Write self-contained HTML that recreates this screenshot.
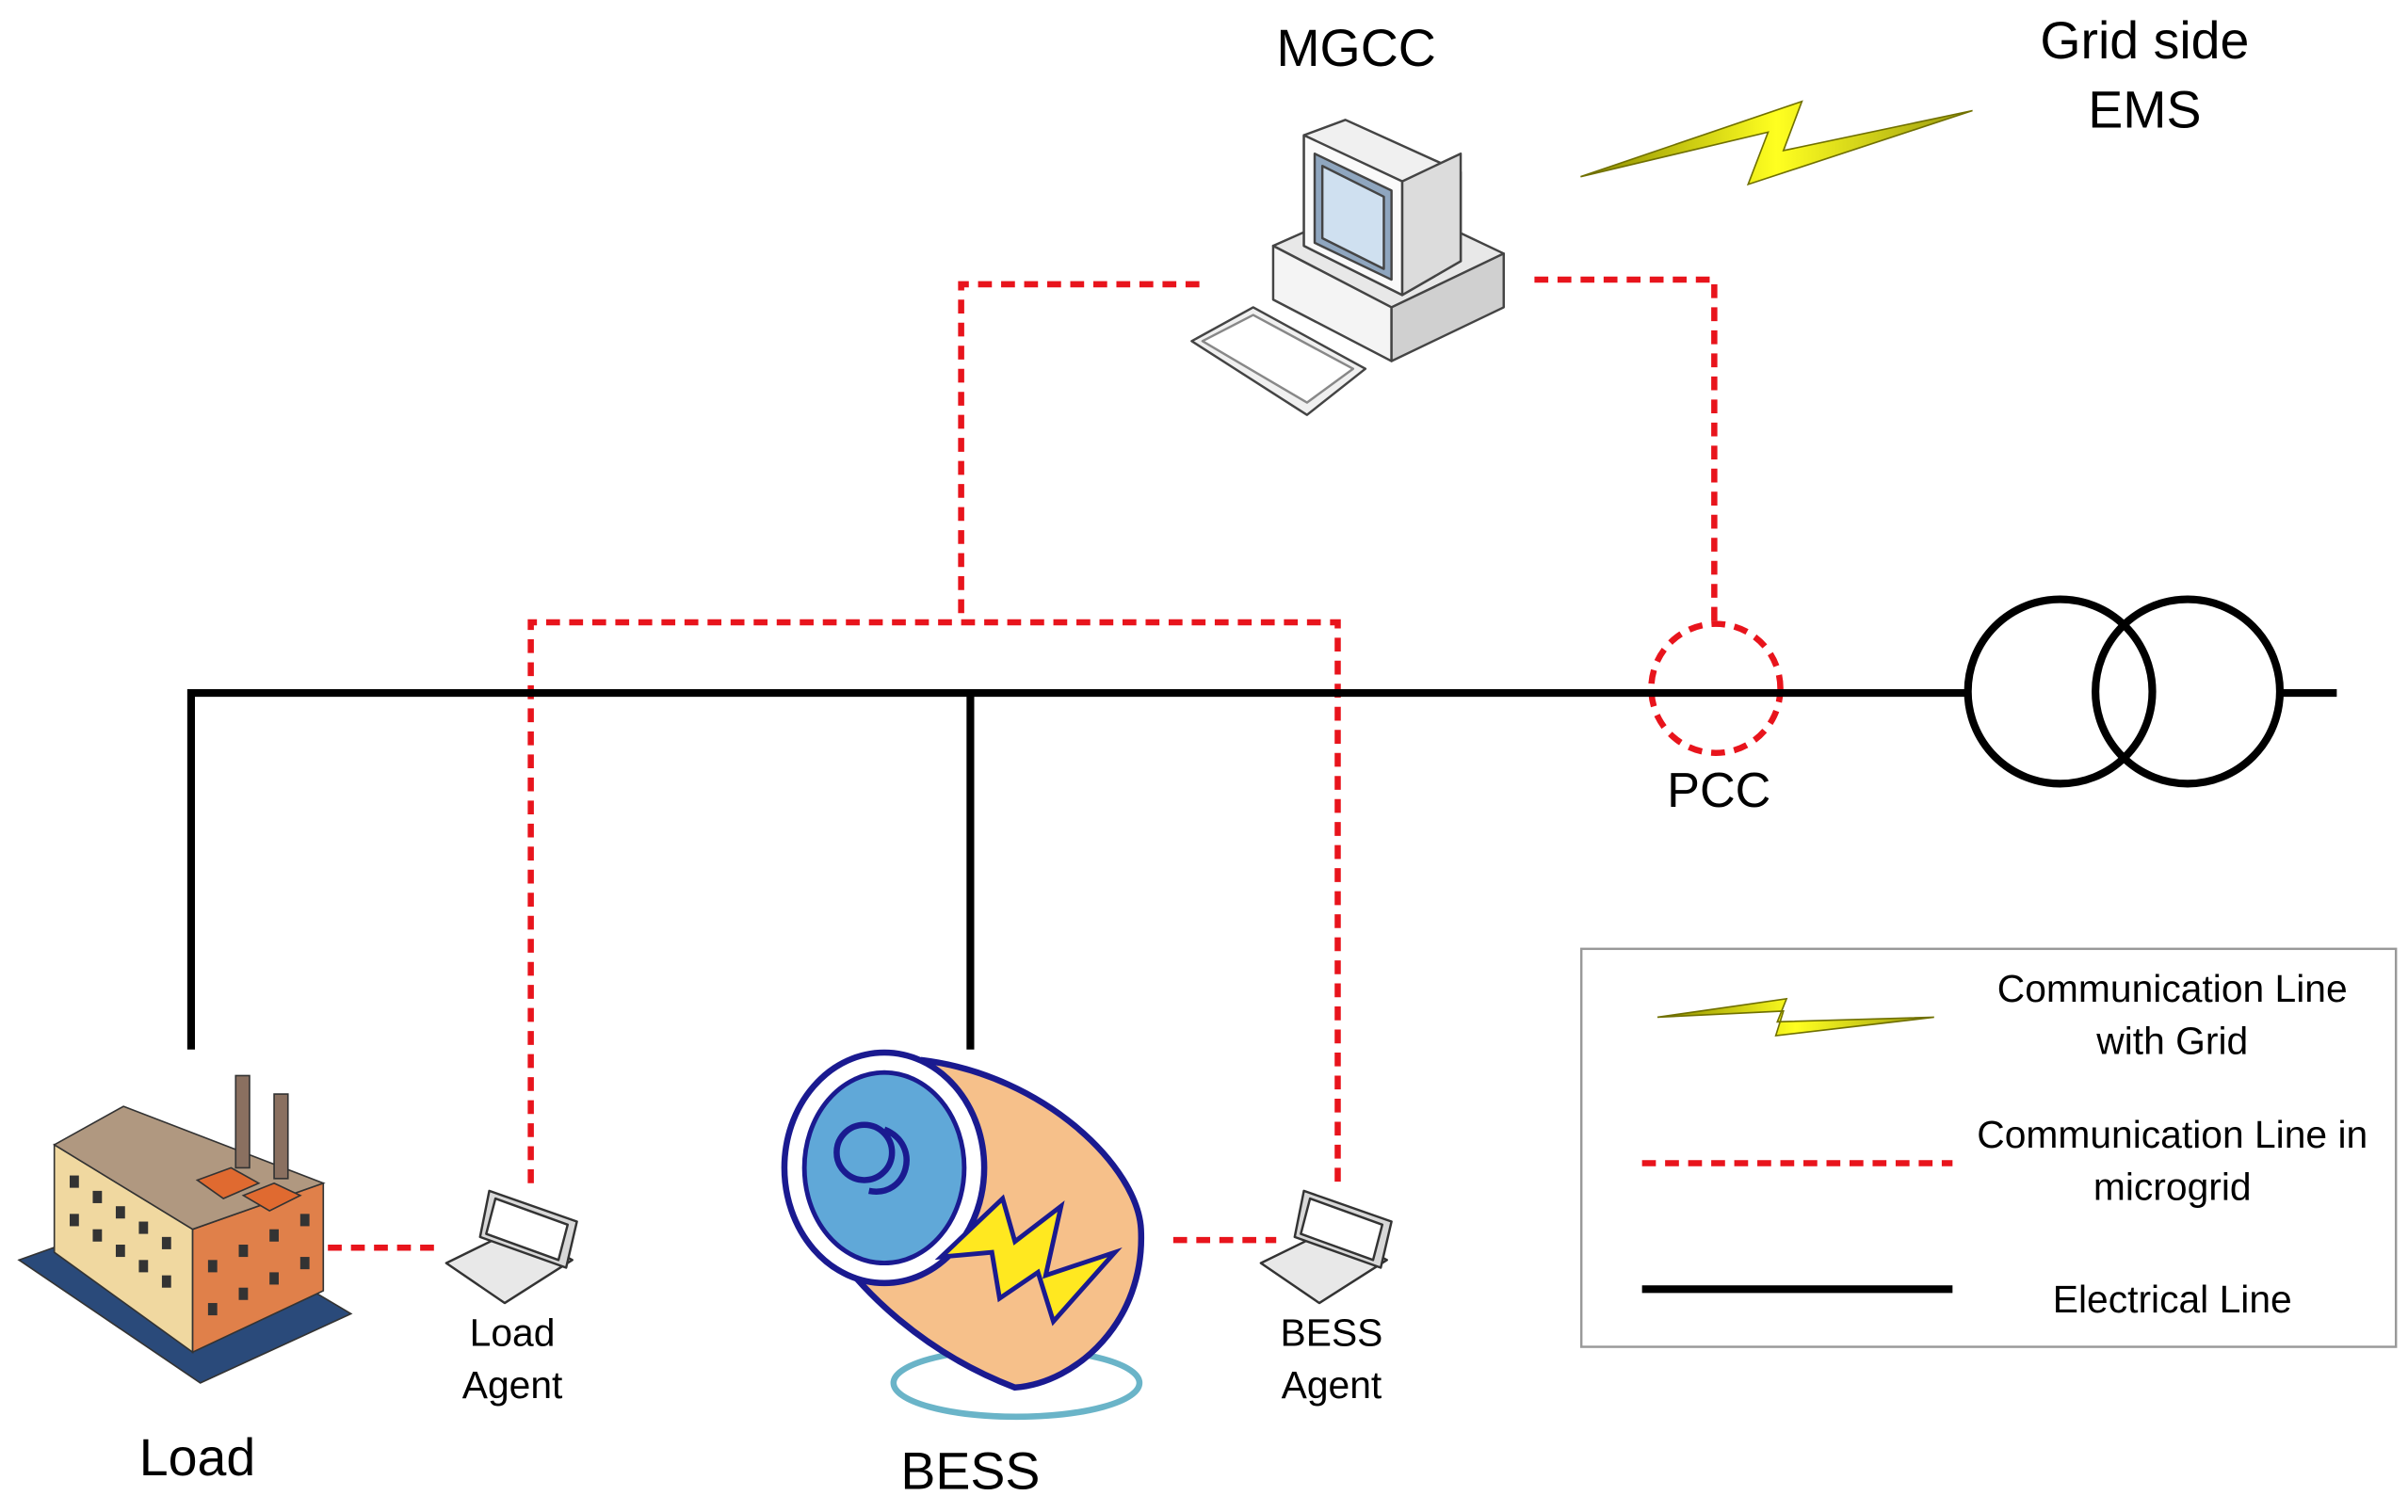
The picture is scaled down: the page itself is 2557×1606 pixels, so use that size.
<!DOCTYPE html>
<html><head><meta charset="utf-8"><style>
html,body{margin:0;padding:0;background:#fff;}
svg{display:block;}
text{font-family:"Liberation Sans","DejaVu Sans",sans-serif;fill:#000;}
</style></head><body>
<svg width="2557" height="1606" viewBox="0 0 1566 984" xmlns="http://www.w3.org/2000/svg">
<defs>
<linearGradient id="yl" x1="0" y1="0" x2="1" y2="0"><stop offset="0" stop-color="#8a8a00"/><stop offset="0.5" stop-color="#ffff20"/><stop offset="1" stop-color="#9a9a10"/></linearGradient>
</defs>
<!-- texts -->
<text x="882" y="43" font-size="34" text-anchor="middle">MGCC</text>
<text x="1395" y="38" font-size="34" text-anchor="middle">Grid side</text>
<text x="1395" y="83" font-size="34" text-anchor="middle">EMS</text>
<text x="1118" y="525" font-size="32" text-anchor="middle">PCC</text>
<text x="128" y="960" font-size="34" text-anchor="middle">Load</text>
<text x="631" y="969" font-size="34" text-anchor="middle">BESS</text>
<text x="333" y="876" font-size="25" text-anchor="middle">Load</text>
<text x="333" y="910" font-size="25" text-anchor="middle">Agent</text>
<text x="866" y="876" font-size="25" text-anchor="middle">BESS</text>
<text x="866" y="910" font-size="25" text-anchor="middle">Agent</text>

<!-- lightning -->
<polygon points="1028,115 1172,66 1160,98 1283,72 1137,120 1150,86" fill="url(#yl)" stroke="#707000" stroke-width="1"/>

<!-- computer -->
<g stroke="#444" stroke-width="1.5" stroke-linejoin="round">
<polygon points="828,160 905,200 978,165 900,128" fill="#e8e8e8"/>
<polygon points="828,160 828,195 905,235 905,200" fill="#f4f4f4"/>
<polygon points="905,200 905,235 978,200 978,165" fill="#d0d0d0"/>
<polygon points="848,88 875,78 950,112 950,170 912,192 848,160" fill="#f0f0f0"/>
<polygon points="848,88 912,118 912,192 848,160" fill="#fafafa"/>
<polygon points="855,100 905,124 905,182 855,158" fill="#8fa6bf"/>
<polygon points="860,108 900,128 900,175 860,155" fill="#cfe0f0"/>
<polygon points="912,118 950,100 950,170 912,192" fill="#dcdcdc"/>
<polygon points="775,222 815,200 888,240 850,270" fill="#f0f0f0"/>
<polygon points="782,222 815,205 880,240 850,262" fill="#fff" stroke="#888"/>
</g>

<!-- red dashed comm lines -->
<g stroke="#e8141c" stroke-width="4" fill="none" stroke-dasharray="9,6">
<polyline points="780,185 625,185 625,405"/>
<polyline points="345,770 345,405 870,405 870,770"/>
<polyline points="998,182 1115,182 1115,408"/>
<circle cx="1116" cy="448" r="42"/>
<line x1="213" y1="812" x2="285" y2="812"/>
<line x1="763" y1="807" x2="830" y2="807"/>
<line x1="1068" y1="757" x2="1270" y2="757"/>
</g>

<!-- electrical -->
<g stroke="#000" stroke-width="5" fill="none">
<polyline points="124,683 124,451 1280,451"/>
<line x1="631" y1="451" x2="631" y2="683"/>
<line x1="1485" y1="451" x2="1520" y2="451"/>
<circle cx="1340" cy="450" r="60"/>
<circle cx="1423" cy="450" r="60"/>
<line x1="1068" y1="839" x2="1270" y2="839"/>
</g>

<!-- legend -->
<rect x="1028.5" y="617.5" width="530" height="259" fill="none" stroke="#999" stroke-width="1.5"/>
<polygon points="1078,662 1162,650 1156,665 1258,662 1155,674 1160,658" fill="url(#yl)" stroke="#707000" stroke-width="1"/>
<text x="1413" y="652" font-size="25" text-anchor="middle">Communication Line</text>
<text x="1413" y="686" font-size="25" text-anchor="middle">with Grid</text>
<text x="1413" y="747" font-size="25" text-anchor="middle">Communication Line in</text>
<text x="1413" y="781" font-size="25" text-anchor="middle">microgrid</text>
<text x="1413" y="854" font-size="25" text-anchor="middle">Electrical Line</text>

<!-- factory -->
<g stroke="#333" stroke-width="1">
<polygon points="12,820 130,900 228,855 110,785" fill="#2a4a7a"/>
<polygon points="35,745 35,815 125,880 125,800" fill="#f0d8a0"/>
<polygon points="125,800 125,880 210,840 210,770" fill="#e0804a"/>
<polygon points="35,745 80,720 210,770 125,800" fill="#b09880"/>
<rect x="153" y="700" width="9" height="60" fill="#8a7060"/>
<rect x="178" y="712" width="9" height="55" fill="#8a7060"/>
<polygon points="128,768 150,760 168,770 145,780" fill="#e06a30"/>
<polygon points="158,778 178,770 195,778 175,788" fill="#e06a30"/>
</g>
<g fill="#333">
<rect x="45" y="765" width="6" height="8"/><rect x="60" y="775" width="6" height="8"/><rect x="75" y="785" width="6" height="8"/><rect x="90" y="795" width="6" height="8"/><rect x="105" y="805" width="6" height="8"/>
<rect x="45" y="790" width="6" height="8"/><rect x="60" y="800" width="6" height="8"/><rect x="75" y="810" width="6" height="8"/><rect x="90" y="820" width="6" height="8"/><rect x="105" y="830" width="6" height="8"/>
<rect x="135" y="820" width="6" height="8"/><rect x="155" y="810" width="6" height="8"/><rect x="175" y="800" width="6" height="8"/><rect x="195" y="790" width="6" height="8"/>
<rect x="135" y="848" width="6" height="8"/><rect x="155" y="838" width="6" height="8"/><rect x="175" y="828" width="6" height="8"/><rect x="195" y="818" width="6" height="8"/>
</g>

<!-- laptops -->
<g stroke="#333" stroke-width="1.5" stroke-linejoin="round">
<polygon points="290,822 328,848 372,820 335,800" fill="#e8e8e8"/>
<polygon points="318,775 375,795 368,825 312,805" fill="#d8d8d8"/>
<polygon points="322,780 369,797 363,820 316,803" fill="#fff"/>
<polygon points="820,822 858,848 902,820 865,800" fill="#e8e8e8"/>
<polygon points="848,775 905,795 898,825 842,805" fill="#d8d8d8"/>
<polygon points="852,780 899,797 893,820 846,803" fill="#fff"/>
</g>

<!-- BESS battery -->
<ellipse cx="661" cy="900" rx="80" ry="22" fill="none" stroke="#6ab4c8" stroke-width="4"/>
<path d="M600,690 C680,700 740,760 742,800 C745,860 700,900 660,903 C600,880 560,840 540,810 Z" fill="#f6c08a" stroke="#1a1a90" stroke-width="4"/>
<ellipse cx="575" cy="760" rx="65" ry="75" fill="#fff" stroke="#1a1a90" stroke-width="4"/>
<ellipse cx="575" cy="760" rx="52" ry="62" fill="#60a8d8" stroke="#1a1a90" stroke-width="3"/>
<circle cx="562" cy="750" r="18" fill="none" stroke="#1a1a90" stroke-width="4"/>
<path d="M575,735 C600,745 590,780 565,775" fill="none" stroke="#1a1a90" stroke-width="4"/>
<polygon points="612,818 652,780 660,808 690,785 680,830 725,815 685,860 675,828 650,845 645,815" fill="#ffe820" stroke="#1a1a90" stroke-width="3"/>
</svg>
</body></html>
